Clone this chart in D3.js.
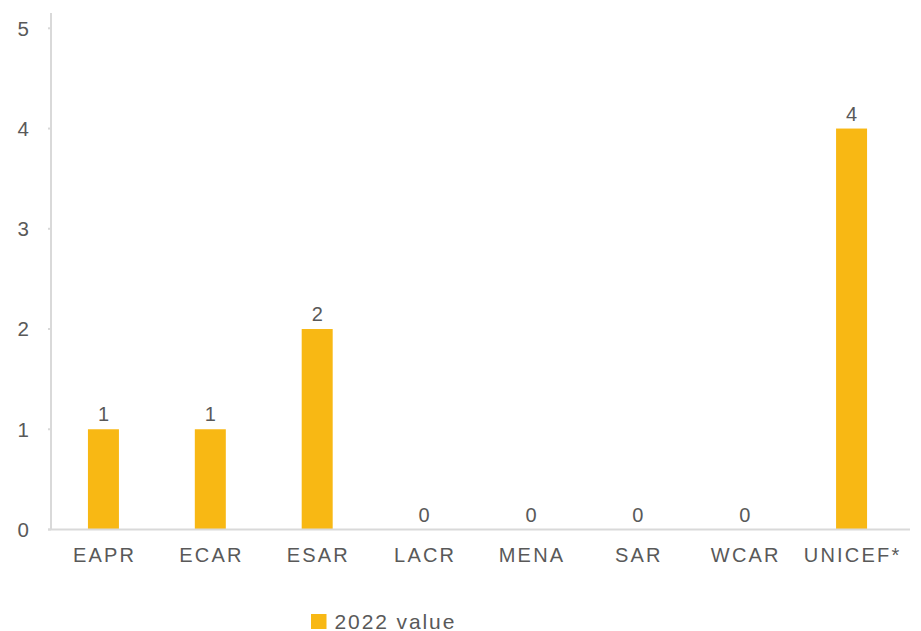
<!DOCTYPE html>
<html>
<head>
<meta charset="utf-8">
<script src="https://cdn.jsdelivr.net/npm/d3@7"></script>
<style>
  html, body { margin: 0; padding: 0; background: #fff; }
  svg { display: block; font-family: "Liberation Sans", Arial, sans-serif; }
</style>
</head>
<body>
<svg id="chart" width="921" height="631"></svg>
<script>
// Regional counts, 2022
const regions = ["EAPR", "ECAR", "ESAR", "LACR", "MENA", "SAR", "WCAR", "UNICEF*"];
const values2022 = [1, 1, 2, 0, 0, 0, 0, 4];
const yTicks = [0, 1, 2, 3, 4, 5];
const seriesName = "2022 value";

const svg = d3.select("#chart");
const baseline = 529.5;
const axisX = 51;

const x = d3.scaleBand()
  .domain(regions)
  .range([50, 905])
  .paddingInner(0.71)
  .paddingOuter(0.355);

const y = d3.scaleLinear()
  .domain([0, 5])
  .range([baseline, 28.3]);

const textColor = "#595959";
const axisColor = "#d9d9d9";
const barColor = "#F8B814";
const catSpacing = 2.2;

// bars
svg.append("g").selectAll("rect").data(regions).join("rect")
  .attr("x", d => x(d))
  .attr("width", x.bandwidth())
  .attr("y", (d, i) => y(values2022[i]))
  .attr("height", (d, i) => baseline - y(values2022[i]))
  .attr("fill", barColor);

// y axis line and ticks
const yAxis = svg.append("g");
yAxis.append("line")
  .attr("x1", axisX).attr("x2", axisX)
  .attr("y1", 13).attr("y2", baseline)
  .attr("stroke", axisColor).attr("stroke-width", 2);
yAxis.selectAll("line.tick").data(yTicks).join("line")
  .attr("class", "tick")
  .attr("x1", axisX - 3).attr("x2", axisX)
  .attr("y1", d => y(d)).attr("y2", d => y(d))
  .attr("stroke", axisColor).attr("stroke-width", 2);
yAxis.selectAll("text").data(yTicks).join("text")
  .attr("x", 29).attr("y", d => y(d))
  .attr("dy", "0.36em")
  .attr("text-anchor", "end")
  .attr("fill", textColor)
  .attr("font-size", 20.5)
  .text(d => d);

// baseline
svg.append("line")
  .attr("x1", 48).attr("x2", 910)
  .attr("y1", baseline).attr("y2", baseline)
  .attr("stroke", axisColor).attr("stroke-width", 2);

// value labels
svg.append("g").selectAll("text").data(regions).join("text")
  .attr("x", d => x(d) + x.bandwidth() / 2)
  .attr("y", (d, i) => y(values2022[i]) - 8)
  .attr("text-anchor", "middle")
  .attr("fill", textColor)
  .attr("font-size", 20)
  .text((d, i) => values2022[i]);

// category labels
svg.append("g").selectAll("text").data(regions).join("text")
  .attr("x", d => x(d) + x.bandwidth() / 2)
  .attr("dx", catSpacing / 2)
  .attr("y", 562)
  .attr("text-anchor", "middle")
  .attr("fill", textColor)
  .attr("font-size", 20)
  .attr("letter-spacing", catSpacing)
  .text(d => d);

// legend
const legend = svg.append("g");
legend.append("rect")
  .attr("x", 311).attr("y", 614)
  .attr("width", 15.5).attr("height", 15)
  .attr("fill", barColor);
legend.append("text")
  .attr("x", 334.5).attr("y", 628.5)
  .attr("fill", textColor)
  .attr("font-size", 21)
  .attr("letter-spacing", 1.9)
  .text(seriesName);
</script>
</body>
</html>
